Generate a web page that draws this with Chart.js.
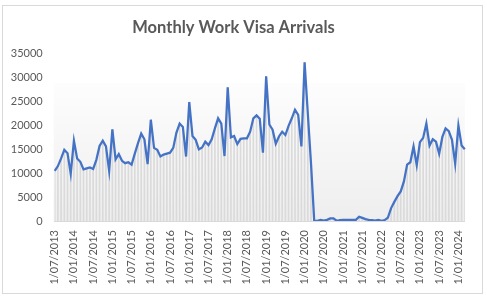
<!DOCTYPE html>
<html>
<head>
<meta charset="utf-8">
<script src="https://cdn.jsdelivr.net/npm/chart.js@4.4.1/dist/chart.umd.min.js"></script>
<style>
html, body { margin: 0; padding: 0; background: #fff; }
</style>
</head>
<body>
<canvas id="visaChart" width="487" height="300"></canvas>
<script>
// month labels, Jul 2013 - Mar 2024
var months = [
    '1/07/2013', '1/08/2013', '1/09/2013', '1/10/2013', '1/11/2013', '1/12/2013',
    '1/01/2014', '1/02/2014', '1/03/2014', '1/04/2014', '1/05/2014', '1/06/2014', '1/07/2014', '1/08/2014', '1/09/2014', '1/10/2014', '1/11/2014', '1/12/2014',
    '1/01/2015', '1/02/2015', '1/03/2015', '1/04/2015', '1/05/2015', '1/06/2015', '1/07/2015', '1/08/2015', '1/09/2015', '1/10/2015', '1/11/2015', '1/12/2015',
    '1/01/2016', '1/02/2016', '1/03/2016', '1/04/2016', '1/05/2016', '1/06/2016', '1/07/2016', '1/08/2016', '1/09/2016', '1/10/2016', '1/11/2016', '1/12/2016',
    '1/01/2017', '1/02/2017', '1/03/2017', '1/04/2017', '1/05/2017', '1/06/2017', '1/07/2017', '1/08/2017', '1/09/2017', '1/10/2017', '1/11/2017', '1/12/2017',
    '1/01/2018', '1/02/2018', '1/03/2018', '1/04/2018', '1/05/2018', '1/06/2018', '1/07/2018', '1/08/2018', '1/09/2018', '1/10/2018', '1/11/2018', '1/12/2018',
    '1/01/2019', '1/02/2019', '1/03/2019', '1/04/2019', '1/05/2019', '1/06/2019', '1/07/2019', '1/08/2019', '1/09/2019', '1/10/2019', '1/11/2019', '1/12/2019',
    '1/01/2020', '1/02/2020', '1/03/2020', '1/04/2020', '1/05/2020', '1/06/2020', '1/07/2020', '1/08/2020', '1/09/2020', '1/10/2020', '1/11/2020', '1/12/2020',
    '1/01/2021', '1/02/2021', '1/03/2021', '1/04/2021', '1/05/2021', '1/06/2021', '1/07/2021', '1/08/2021', '1/09/2021', '1/10/2021', '1/11/2021', '1/12/2021',
    '1/01/2022', '1/02/2022', '1/03/2022', '1/04/2022', '1/05/2022', '1/06/2022', '1/07/2022', '1/08/2022', '1/09/2022', '1/10/2022', '1/11/2022', '1/12/2022',
    '1/01/2023', '1/02/2023', '1/03/2023', '1/04/2023', '1/05/2023', '1/06/2023', '1/07/2023', '1/08/2023', '1/09/2023', '1/10/2023', '1/11/2023', '1/12/2023',
    '1/01/2024', '1/02/2024', '1/03/2024'
];

// arrivals per month
var arrivals = [
    10500, 11500, 13100, 14900, 14200, 9900,
    16800, 13100, 12400, 10800, 11000, 11200, 10900, 12800, 15700, 16800, 15600, 10500,
    19200, 12900, 14000, 12600, 12100, 12300, 11800, 14100, 16300, 18300, 17100, 11900,
    21200, 15300, 14900, 13500, 13900, 14100, 14300, 15300, 18500, 20400, 19700, 13500,
    24900, 17800, 17000, 15000, 15400, 16600, 15900, 17100, 19400, 21500, 20400, 13600,
    28000, 17500, 17800, 16100, 17200, 17300, 17300, 18700, 21500, 22100, 21400, 14300,
    30300, 20200, 19100, 16200, 17700, 18700, 18000, 19900, 21500, 23300, 22200, 15600,
    33200, 22500, 12000, 100, 50, 250, 100, 250, 550, 550, 50, 200,
    250, 250, 250, 250, 250, 900, 650, 400, 250, 200, 100, 250,
    50, 200, 700, 2700, 4000, 5200, 6200, 8300, 11800, 12300, 15600, 11700,
    16500, 17400, 20400, 15800, 17100, 16600, 14100, 17600, 19400, 18800, 17000, 12000,
    20000, 15800, 15000
];

var yTicks = [0, 5000, 10000, 15000, 20000, 25000, 30000, 35000];
var labelEvery = 6;

var textGrey = '#595959';

var backdrop = {
    id: 'backdrop',
    beforeDraw: function (chart) {
        var c = chart.ctx, a = chart.chartArea;
        c.save();
        c.fillStyle = '#ffffff';
        c.fillRect(0, 0, chart.width, chart.height);
        var top = a.top + 29;
        var g = c.createLinearGradient(0, top, 0, a.bottom);
        g.addColorStop(0, '#fdfdfd');
        g.addColorStop(1, '#eeeeee');
        c.fillStyle = g;
        c.fillRect(a.left - 1, top, a.right - a.left + 1, a.bottom - top);
        c.restore();
    },
    afterDraw: function (chart) {
        var c = chart.ctx;
        c.save();
        c.strokeStyle = '#d9d9d9';
        c.lineWidth = 1;
        c.strokeRect(2.5, 5.5, 480, 288);
        c.restore();
    }
};

var ctx = document.getElementById('visaChart').getContext('2d');
var visaChart = new Chart(ctx, {
    type: 'line',
    data: {
        labels: months,
        datasets: [{
            type: 'line',
            label: 'Arrivals',
            data: arrivals,
            borderColor: '#4472C4',
            borderWidth: 2.25,
            pointRadius: 0,
            tension: 0,
            order: 1
        }, {
            type: 'bar',
            label: 'Drop lines',
            data: arrivals,
            backgroundColor: '#dadada',
            barThickness: 1,
            order: 2
        }]
    },
    options: {
        responsive: false,
        animation: false,
        devicePixelRatio: 1,
        layout: { padding: { left: 0, right: 20, top: 0, bottom: 0 } },
        plugins: {
            legend: { display: false },
            tooltip: { enabled: false },
            title: {
                display: true,
                text: 'Monthly Work Visa Arrivals',
                color: textGrey,
                font: { family: 'Lato', size: 16.5, weight: 'bold' },
                padding: { top: 18, bottom: 16 }
            }
        },
        scales: {
            x: {
                offset: false,
                grid: { display: false, drawTicks: false },
                border: { display: true, color: '#d9d9d9', width: 1 },
                ticks: {
                    autoSkip: false,
                    maxRotation: 90,
                    minRotation: 90,
                    padding: 9,
                    color: textGrey,
                    font: { family: 'Lato', size: 11 },
                    callback: function (v, i) { return i % labelEvery === 0 ? months[i] : ''; }
                },
                afterFit: function (s) { s.height = 79; }
            },
            y: {
                min: yTicks[0],
                max: yTicks[yTicks.length - 1],
                grid: { display: false, drawTicks: false },
                border: { display: false },
                afterBuildTicks: function (s) { s.ticks = yTicks.map(function (v) { return { value: v }; }); },
                ticks: {
                    padding: 12,
                    color: textGrey,
                    font: { family: 'Lato', size: 11 },
                    callback: function (v) { return String(v); }
                },
                afterFit: function (s) { s.width = 54.7; }
            }
        }
    },
    plugins: [backdrop]
});
</script>
</body>
</html>
